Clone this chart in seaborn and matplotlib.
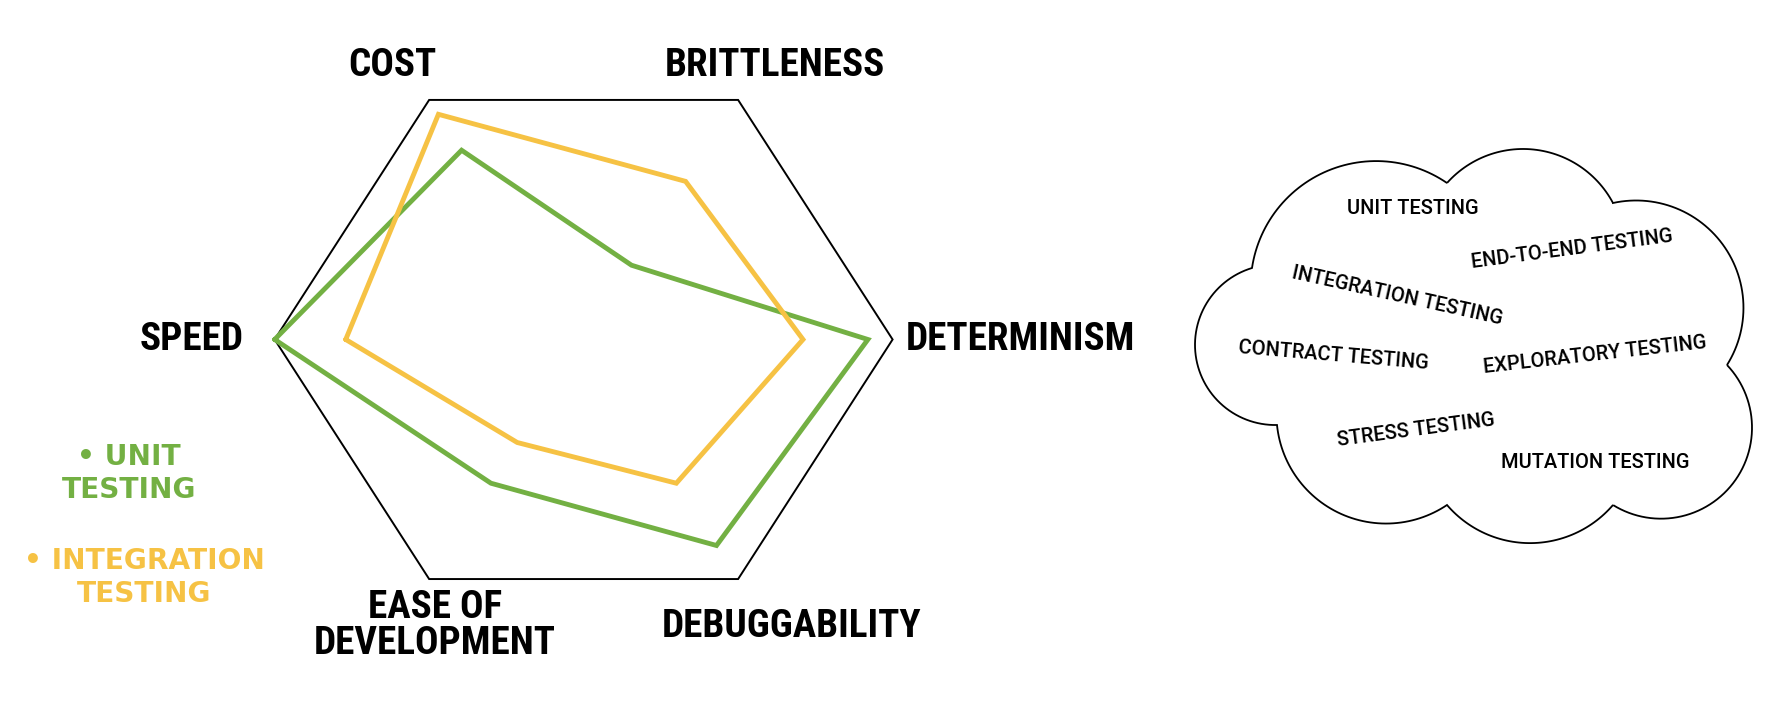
import numpy as np
import pandas as pd
import matplotlib
matplotlib.use("Agg")
import matplotlib.pyplot as plt
import seaborn as sns
from matplotlib import font_manager as fm
from matplotlib.patches import Polygon

# ---------------- data ----------------
categories = ["SPEED", "COST", "BRITTLENESS", "DETERMINISM", "DEBUGGABILITY", "EASE OF\nDEVELOPMENT"]
unit_testing = [1.00, 0.79, 0.31, 0.92, 0.86, 0.60]
integration_testing = [0.77, 0.94, 0.66, 0.71, 0.60, 0.43]
series_names = ["UNIT TESTING", "INTEGRATION TESTING"]
legend_labels = ["\u2022 UNIT\nTESTING", "\u2022 INTEGRATION\nTESTING"]
cloud_terms = ["UNIT TESTING", "END-TO-END TESTING", "INTEGRATION TESTING", "CONTRACT TESTING",
               "EXPLORATORY TESTING", "STRESS TESTING", "MUTATION TESTING"]

GREEN = "#73b043"
YELLOW = "#f6c244"

sns.set_theme(style="white")
plt.rcParams["font.family"] = ["DejaVu Sans"]

fig = plt.figure(figsize=(17.87, 7.08), dpi=100)
fig.patch.set_facecolor("white")
renderer = fig.canvas.get_renderer()

names = {f.name for f in fm.fontManager.ttflist}
label_family = next((f for f in ["Roboto Condensed", "Liberation Sans Narrow", "Open Sans Condensed"] if f in names),
                    "DejaVu Sans")
cloud_family = "Roboto" if "Roboto" in names else "DejaVu Sans"


def fit_size(text, target_px, **kw):
    t = fig.text(0, 0, text, fontsize=10, **kw)
    w = t.get_window_extent(renderer).width
    t.remove()
    return 10 * target_px / w


label_kw = dict(family=label_family, weight="bold", stretch="condensed")
cloud_kw = dict(family=cloud_family, weight="medium")
label_fs = fit_size("DEBUGGABILITY", 257, **label_kw)
legend_fs = fit_size("TESTING", 135, weight="bold")
cloud_fs = fit_size("INTEGRATION TESTING", 213, **cloud_kw)

# background axes in pixel coordinates
bg = fig.add_axes([0, 0, 1, 1])
bg.set_xlim(0, 1787)
bg.set_ylim(708, 0)
bg.axis("off")

# ---------------- radar ----------------
ax = fig.add_axes([0.1537, 0.1298, 0.3458, 0.7814], projection="polar")
ax.set_aspect("auto")
ax.set_theta_offset(np.pi)
ax.set_theta_direction(-1)

n = len(categories)
theta = np.arange(n) * 2 * np.pi / n
theta_closed = np.append(theta, 2 * np.pi)

rows = []
for name, vals in zip(series_names, [unit_testing, integration_testing]):
    for t, v in zip(theta_closed, list(vals) + [vals[0]]):
        rows.append({"theta": t, "value": v, "series": name})
df = pd.DataFrame(rows)

ax.plot(theta_closed, np.ones(n + 1), color="black", lw=1.4, zorder=1)
sns.lineplot(data=df, x="theta", y="value", hue="series", hue_order=series_names,
             palette=[GREEN, YELLOW], sort=False, estimator=None, linewidth=3.5,
             ax=ax, legend=False)
for ln in ax.lines:
    ln.set_clip_on(False)
    ln.set_solid_joinstyle("miter")

ax.set_ylim(0, 1)
ax.set_xticks([])
ax.set_yticks([])
ax.grid(False)
ax.spines["polar"].set_visible(False)
ax.patch.set_visible(False)
ax.set_xlabel("")
ax.set_ylabel("")

# label placement (theta deg, r, ha)
label_pos = [(0, 1.10, "right"), (58, 1.17, "center"), (122, 1.166, "center"),
             (180, 1.043, "left"), (237, 1.236, "center"), (295, 1.14, "center")]
for lab, (tdeg, r, ha) in zip(categories, label_pos):
    ax.text(np.deg2rad(tdeg), r, lab, ha=ha, va="center", multialignment="center",
            fontsize=label_fs, linespacing=0.95, color="black", **label_kw)

# ---------------- legend ----------------
legend_xy = [(129, 473.5), (144, 577.5)]
for lab, col, (x, y) in zip(legend_labels, [GREEN, YELLOW], legend_xy):
    bg.text(x, y, lab, color=col, ha="center", va="center", multialignment="center",
            fontsize=legend_fs, weight="bold", linespacing=1.2)

# ---------------- cloud ----------------
cusps = [(1252, 268), (1447, 183), (1613, 203), (1727, 365), (1613, 505), (1447, 505), (1277, 425)]
mids = [(1338, 167), (1525, 149), (1741, 285), (1730, 487), (1525, 543), (1375, 523), (1195, 345)]


def arc_pts(p1, pm, p3, k=60):
    (x1, y1), (x2, y2), (x3, y3) = p1, pm, p3
    d = 2 * (x1 * (y2 - y3) + x2 * (y3 - y1) + x3 * (y1 - y2))
    ux = ((x1**2 + y1**2) * (y2 - y3) + (x2**2 + y2**2) * (y3 - y1) + (x3**2 + y3**2) * (y1 - y2)) / d
    uy = ((x1**2 + y1**2) * (x3 - x2) + (x2**2 + y2**2) * (x1 - x3) + (x3**2 + y3**2) * (x2 - x1)) / d
    r = np.hypot(x1 - ux, y1 - uy)
    a1 = np.arctan2(y1 - uy, x1 - ux)
    a2 = np.arctan2(y2 - uy, x2 - ux)
    a3 = np.arctan2(y3 - uy, x3 - ux)
    d3 = (a3 - a1) % (2 * np.pi)
    d2 = (a2 - a1) % (2 * np.pi)
    if d2 < d3:
        ang = a1 + np.linspace(0, d3, k)
    else:
        ang = a1 - np.linspace(0, 2 * np.pi - d3, k)
    return np.column_stack([ux + r * np.cos(ang), uy + r * np.sin(ang)])


pts = []
for i in range(len(cusps)):
    pts.append(arc_pts(cusps[i], mids[i], cusps[(i + 1) % len(cusps)]))
outline = np.vstack(pts)
bg.add_patch(Polygon(outline, closed=True, facecolor="white", edgecolor="black", lw=1.3, joinstyle="miter"))

cloud_pos = [(1413, 208, 0), (1572, 249, 7.5), (1397, 296, -12.5), (1334, 356, -4.8),
             (1595, 355, 6.4), (1416, 430, 7.5), (1595, 463, 0)]
for term, (x, y, rot) in zip(cloud_terms, cloud_pos):
    bg.text(x, y, term, ha="center", va="center", rotation=rot, rotation_mode="anchor",
            fontsize=cloud_fs, color="black", **cloud_kw)

fig.savefig("out.png", dpi=100, facecolor="white")
